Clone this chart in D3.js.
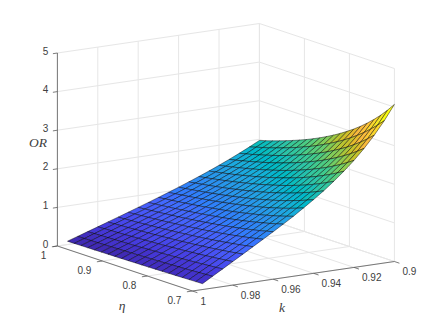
<!DOCTYPE html>
<html>
<head>
<meta charset="utf-8">
<script src="https://cdn.jsdelivr.net/npm/d3@7"></script>
<style>
  html, body { margin: 0; background: #fff; }
  text { font-family: "Liberation Sans", sans-serif; font-size: 10px; fill: #404040; }
  .mathLabel { font-family: "Liberation Serif", serif; font-style: italic; font-size: 13.5px; }
</style>
</head>
<body>
<div id="chart"></div>
<script>
const kTicks = [1, 0.98, 0.96, 0.94, 0.92, 0.9];
const etaTicks = [1, 0.9, 0.8, 0.7];
const orTicks = [0, 1, 2, 3, 4, 5];

const kValues = [0.9, 0.905, 0.91, 0.915, 0.92, 0.925, 0.93, 0.935, 0.94, 0.945,
                 0.95, 0.955, 0.96, 0.965, 0.97, 0.975, 0.98, 0.985, 0.99, 0.995];
const etaValues = [0.7, 0.715, 0.73, 0.745, 0.76, 0.775, 0.79, 0.805, 0.82, 0.835, 0.85,
                   0.865, 0.88, 0.895, 0.91, 0.925, 0.94, 0.955, 0.97, 0.985, 1];

// one row per k, one column per eta
const orValues = [
  [4.070,3.865,3.678,3.509,3.355,3.213,3.083,2.965,2.853,2.750,2.656,2.565,2.482,2.403,2.331,2.262,2.197,2.135,2.076,2.021,1.970],
  [3.687,3.512,3.353,3.205,3.073,2.950,2.836,2.731,2.634,2.544,2.457,2.378,2.305,2.235,2.169,2.106,2.048,1.992,1.941,1.891,1.838],
  [3.347,3.195,3.054,2.928,2.809,2.702,2.602,2.508,2.422,2.340,2.265,2.195,2.128,2.065,2.006,1.950,1.897,1.847,1.799,1.755,1.712],
  [3.045,2.913,2.790,2.679,2.575,2.480,2.390,2.308,2.231,2.159,2.091,2.027,1.968,1.911,1.858,1.808,1.760,1.715,1.672,1.631,1.593],
  [2.773,2.656,2.550,2.451,2.359,2.275,2.196,2.122,2.053,1.989,1.929,1.871,1.818,1.766,1.719,1.673,1.630,1.589,1.550,1.513,1.478],
  [2.530,2.427,2.333,2.245,2.163,2.088,2.017,1.951,1.889,1.832,1.777,1.725,1.677,1.630,1.588,1.547,1.507,1.470,1.435,1.401,1.369],
  [2.307,2.216,2.131,2.053,1.979,1.912,1.849,1.790,1.734,1.682,1.633,1.586,1.543,1.502,1.462,1.425,1.389,1.356,1.323,1.293,1.264],
  [2.099,2.018,1.943,1.874,1.808,1.748,1.691,1.637,1.587,1.541,1.497,1.455,1.415,1.378,1.342,1.308,1.277,1.247,1.218,1.190,1.163],
  [1.910,1.837,1.769,1.707,1.648,1.593,1.542,1.494,1.449,1.407,1.367,1.329,1.293,1.259,1.227,1.196,1.167,1.140,1.113,1.088,1.064],
  [1.731,1.665,1.605,1.547,1.495,1.447,1.400,1.358,1.317,1.278,1.242,1.208,1.176,1.145,1.116,1.089,1.063,1.038,1.014,0.990,0.969],
  [1.553,1.495,1.442,1.392,1.346,1.302,1.261,1.222,1.186,1.152,1.120,1.090,1.061,1.034,1.007,0.983,0.960,0.937,0.916,0.895,0.876],
  [1.390,1.338,1.290,1.246,1.204,1.165,1.128,1.094,1.062,1.031,1.003,0.975,0.949,0.925,0.902,0.880,0.859,0.839,0.820,0.801,0.784],
  [1.230,1.185,1.142,1.103,1.066,1.031,0.999,0.968,0.940,0.913,0.888,0.863,0.840,0.819,0.798,0.779,0.761,0.743,0.726,0.709,0.694],
  [1.074,1.034,0.997,0.963,0.931,0.901,0.872,0.845,0.821,0.797,0.775,0.754,0.734,0.715,0.697,0.680,0.664,0.648,0.634,0.619,0.606],
  [0.918,0.884,0.853,0.823,0.796,0.770,0.745,0.723,0.701,0.681,0.663,0.644,0.627,0.611,0.596,0.581,0.568,0.554,0.542,0.529,0.518],
  [0.764,0.736,0.709,0.685,0.662,0.640,0.620,0.601,0.584,0.567,0.551,0.536,0.522,0.509,0.496,0.484,0.472,0.461,0.451,0.440,0.431],
  [0.610,0.587,0.566,0.547,0.528,0.511,0.495,0.480,0.466,0.452,0.440,0.428,0.417,0.406,0.396,0.386,0.377,0.368,0.360,0.352,0.344],
  [0.457,0.440,0.425,0.410,0.396,0.383,0.371,0.360,0.349,0.339,0.330,0.321,0.312,0.304,0.297,0.289,0.283,0.276,0.270,0.264,0.258],
  [0.305,0.294,0.283,0.273,0.264,0.256,0.248,0.240,0.233,0.226,0.220,0.214,0.208,0.203,0.198,0.193,0.189,0.184,0.180,0.176,0.172],
  [0.152,0.147,0.142,0.137,0.132,0.128,0.124,0.120,0.116,0.113,0.110,0.107,0.104,0.101,0.099,0.096,0.094,0.092,0.090,0.088,0.086]
];

const parula = [
  [.2422,.1504,.6603],[.2504,.1650,.7076],[.2578,.1818,.7511],[.2647,.1978,.7952],[.2706,.2147,.8364],[.2751,.2342,.8710],
  [.2783,.2559,.8991],[.2803,.2782,.9221],[.2813,.3006,.9414],[.2810,.3228,.9579],[.2795,.3447,.9717],[.2760,.3667,.9829],
  [.2699,.3892,.9906],[.2602,.4123,.9952],[.2440,.4358,.9988],[.2206,.4603,.9973],[.1963,.4847,.9892],[.1834,.5074,.9798],
  [.1786,.5289,.9682],[.1764,.5499,.9520],[.1687,.5703,.9359],[.1540,.5902,.9218],[.1460,.6091,.9079],[.1380,.6276,.8973],
  [.1248,.6459,.8883],[.1113,.6635,.8763],[.0952,.6798,.8598],[.0689,.6948,.8394],[.0297,.7082,.8163],[.0036,.7203,.7917],
  [.0067,.7312,.7660],[.0433,.7411,.7394],[.0964,.7500,.7120],[.1408,.7584,.6842],[.1717,.7670,.6554],[.1938,.7758,.6251],
  [.2161,.7843,.5923],[.2470,.7918,.5567],[.2906,.7973,.5188],[.3406,.8008,.4789],[.3909,.8029,.4354],[.4456,.8024,.3909],
  [.5044,.7993,.3480],[.5616,.7942,.3045],[.6174,.7876,.2612],[.6720,.7793,.2227],[.7242,.7698,.1910],[.7738,.7598,.1646],
  [.8203,.7498,.1535],[.8634,.7406,.1596],[.9035,.7330,.1774],[.9393,.7288,.2100],[.9728,.7298,.2394],[.9956,.7434,.2371],
  [.9970,.7659,.2199],[.9952,.7893,.2028],[.9892,.8136,.1885],[.9786,.8386,.1766],[.9676,.8639,.1643],[.9610,.8890,.1537],
  [.9597,.9135,.1423],[.9628,.9373,.1265],[.9691,.9606,.1064],[.9769,.9839,.0805]
].map(([r, g, b]) => d3.rgb(r * 255, g * 255, b * 255).formatRgb());

const w = 436, h = 327;
const gridColor = '#e6e6e6', axisColor = '#5a5a5a';

// the box is drawn in parallel projection: three scales, one for each axis direction
const origin = { x: 57.4, y: 246 };
const kToBack = d3.scaleLinear().domain([1, 0.9]).range([0, 1]);
const etaToFront = d3.scaleLinear().domain([1, 0.7]).range([0, 1]);
const orToPx = d3.scaleLinear().domain([0, 5]).range([0, 193]);

const project = (k, eta, or) => {
  const t = kToBack(k), s = etaToFront(eta);
  return [origin.x + 202 * t + 135 * s,
          origin.y - 29.5 * t + 45 * s - orToPx(or)];
};

const colorOf = d3.scaleQuantize()
      .domain([d3.min(orValues.flat()), d3.max(orValues.flat())])
      .range(parula);

const line = d3.line();

const svg = d3.select('#chart').append('svg')
      .attr('width', w)
      .attr('height', h)
      .style('display', 'block');

const segment = (from, to, color, width) => {
  svg.append('path')
    .attr('d', line([from, to]))
    .attr('fill', 'none')
    .attr('stroke', color)
    .attr('stroke-width', width);
};

const kMin = 0.9, kMax = 1, etaMin = 0.7, etaMax = 1, orMax = 5;

// grid on the two back walls and on the floor
orTicks.forEach((or) => {
  segment(project(kMax, etaMax, or), project(kMin, etaMax, or), gridColor, 1);
  segment(project(kMin, etaMax, or), project(kMin, etaMin, or), gridColor, 1);
});
kTicks.forEach((k) => {
  segment(project(k, etaMax, 0), project(k, etaMin, 0), gridColor, 1);
  segment(project(k, etaMax, 0), project(k, etaMax, orMax), gridColor, 1);
});
etaTicks.forEach((eta) => {
  segment(project(kMax, eta, 0), project(kMin, eta, 0), gridColor, 1);
  segment(project(kMin, eta, 0), project(kMin, eta, orMax), gridColor, 1);
});

// axis lines
segment(project(kMax, etaMax, 0), project(kMax, etaMax, orMax), axisColor, 0.8);
segment(project(kMax, etaMax, 0), project(kMax, etaMin, 0), axisColor, 0.8);
segment(project(kMax, etaMin, 0), project(kMin, etaMin, 0), axisColor, 0.8);

// faces back to front, each coloured by its first corner
const cells = [];
kValues.slice(0, -1).forEach((k, i) => {
  etaValues.slice(0, -1).forEach((eta, j) => {
    cells.push({ i, j });
  });
});
cells.sort((a, b) => a.i - b.i || b.j - a.j);

svg.append('g').selectAll('path')
  .data(cells)
  .join('path')
  .attr('d', ({ i, j }) => line([
    project(kValues[i], etaValues[j], orValues[i][j]),
    project(kValues[i + 1], etaValues[j], orValues[i + 1][j]),
    project(kValues[i + 1], etaValues[j + 1], orValues[i + 1][j + 1]),
    project(kValues[i], etaValues[j + 1], orValues[i][j + 1])
  ]) + 'Z')
  .attr('fill', ({ i, j }) => colorOf(orValues[i][j]))
  .attr('stroke', '#000')
  .attr('stroke-width', 0.45)
  .attr('stroke-linejoin', 'round');

// ticks and their labels
const shift = ([x, y], dx, dy) => [x + dx, y + dy];

orTicks.forEach((or) => {
  const p = project(kMax, etaMax, or);
  segment(p, shift(p, -4.5, 0.7), axisColor, 0.8);
  svg.append('text')
    .attr('x', p[0] - 9)
    .attr('y', p[1] - 2)
    .attr('text-anchor', 'end')
    .attr('dominant-baseline', 'central')
    .text(or);
});
etaTicks.forEach((eta) => {
  const p = project(kMax, eta, 0);
  segment(p, shift(p, -5.5, 0.8), axisColor, 0.8);
  svg.append('text')
    .attr('x', p[0] - 11)
    .attr('y', p[1] + 9)
    .attr('text-anchor', 'end')
    .attr('dominant-baseline', 'central')
    .text(eta);
});
kTicks.forEach((k) => {
  const p = project(k, etaMin, 0);
  segment(p, shift(p, 5, 1.7), axisColor, 0.8);
  svg.append('text')
    .attr('x', p[0] + 8)
    .attr('y', p[1] + 10)
    .attr('text-anchor', 'start')
    .attr('dominant-baseline', 'central')
    .text(k);
});

// axis titles
const titles = [['OR', 38, 142], ['η', 122, 305], ['k', 282, 307]];
svg.append('g').selectAll('text')
  .data(titles)
  .join('text')
  .attr('class', 'mathLabel')
  .attr('x', (d) => d[1])
  .attr('y', (d) => d[2])
  .attr('text-anchor', 'middle')
  .attr('dominant-baseline', 'central')
  .text((d) => d[0]);
</script>
</body>
</html>
